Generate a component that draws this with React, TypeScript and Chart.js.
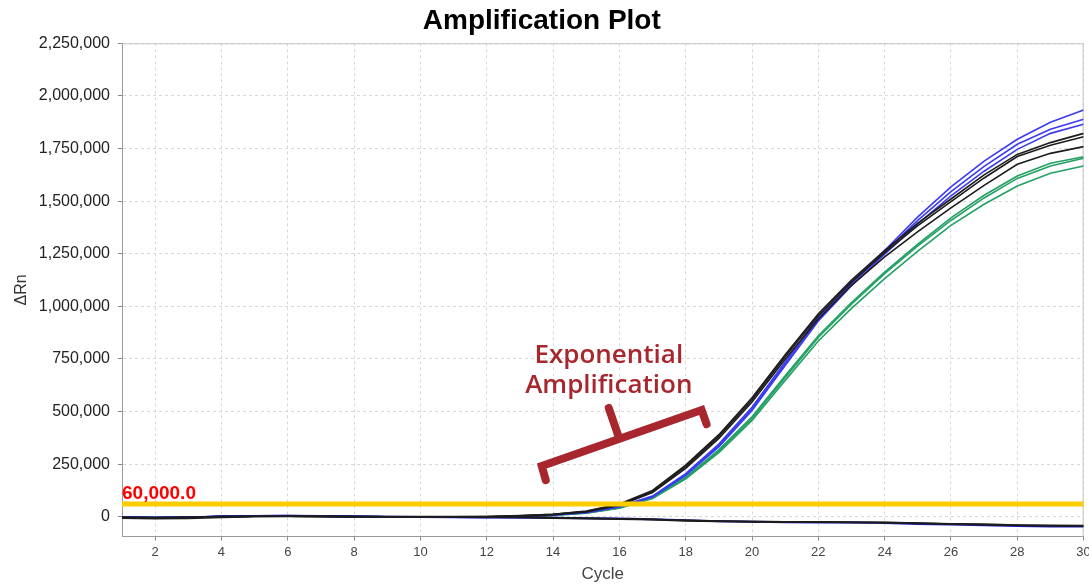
import React, { useEffect, useRef } from 'react';
import { Chart, registerables } from 'chart.js';

Chart.register(...registerables);

// ---------- data ----------
const cycles = [1, 2, 3, 4, 5, 6, 7, 8, 9, 10, 11, 12, 13, 14, 15, 16, 17, 18, 19, 20, 21, 22, 23, 24, 25, 26, 27, 28, 29, 30];
const xTickValues = [2, 4, 6, 8, 10, 12, 14, 16, 18, 20, 22, 24, 26, 28, 30];
const yTickValues = [0, 250000, 500000, 750000, 1000000, 1250000, 1500000, 1750000, 2000000, 2250000];

const black1 = [-5000, -7000, -4000, 0, 2000, 2000, 1000, 0, 0, 0, 0, 1000, 5000, 12000, 27000, 60000, 125000, 245000, 390000, 565000, 770000, 965000, 1125000, 1265000, 1395000, 1510000, 1625000, 1722000, 1778000, 1822000];
const black2 = [-4000, -6000, -3000, 1000, 3000, 2000, 1000, 0, 0, 0, 0, 1000, 4000, 11000, 25000, 57000, 120000, 238000, 382000, 556000, 760000, 955000, 1115000, 1255000, 1383000, 1498000, 1610000, 1712000, 1765000, 1806000];
const black3 = [-3000, -5000, -3000, 1000, 2000, 2000, 1000, 0, 0, 0, 0, 0, 3000, 10000, 23000, 54000, 115000, 230000, 372000, 545000, 748000, 940000, 1100000, 1235000, 1355000, 1468000, 1575000, 1675000, 1727000, 1759000];

const blue1 = [-3000, -5000, -3000, 2000, 4000, 4000, 3000, 1000, 0, -1000, -2000, -2000, 2000, 9000, 21000, 48000, 98000, 205000, 345000, 520000, 735000, 950000, 1115000, 1265000, 1425000, 1568000, 1690000, 1794000, 1875000, 1933000];
const blue2 = [-2000, -4000, -2000, 2000, 4000, 5000, 3000, 1000, 0, -1000, -2000, -2000, 1000, 8000, 20000, 47000, 96000, 200000, 338000, 512000, 725000, 940000, 1108000, 1258000, 1408000, 1545000, 1665000, 1770000, 1841000, 1889000];
const blue3 = [-3000, -4000, -3000, 1000, 3000, 4000, 3000, 1000, 0, -1000, -2000, -3000, 1000, 8000, 19000, 46000, 94000, 196000, 332000, 505000, 718000, 930000, 1098000, 1248000, 1392000, 1525000, 1642000, 1746000, 1822000, 1865000];

const green1 = [-2000, -4000, -2000, 1000, 3000, 3000, 2000, 1000, 0, -1000, -2000, -2000, 1000, 8000, 19000, 43000, 90000, 188000, 318000, 475000, 670000, 860000, 1018000, 1162000, 1295000, 1420000, 1528000, 1619000, 1680000, 1711000];
const green2 = [-2000, -3000, -2000, 1000, 3000, 3000, 2000, 1000, 0, -1000, -2000, -2000, 0, 7000, 18000, 42000, 88000, 184000, 312000, 468000, 662000, 852000, 1010000, 1155000, 1287000, 1408000, 1515000, 1608000, 1667000, 1704000];
const green3 = [-3000, -4000, -2000, 1000, 2000, 3000, 2000, 1000, 0, -1000, -2000, -3000, 0, 6000, 17000, 41000, 86000, 180000, 305000, 458000, 648000, 835000, 990000, 1132000, 1262000, 1385000, 1485000, 1572000, 1632000, 1667000];

const ntc1 = [-6000, -9000, -7000, -2000, 1000, 2000, 2000, 1000, 0, 0, 0, -1000, -3000, -6000, -9000, -11000, -13000, -19000, -22000, -24000, -25000, -25000, -26000, -28000, -31000, -34000, -36000, -40000, -42000, -43000];
const ntc2 = [-3000, -5000, -4000, 1000, 4000, 5000, 4000, 2000, 0, -1000, -3000, -4000, -5000, -5000, -7000, -9000, -12000, -17000, -21000, -24000, -26000, -28000, -28000, -30000, -34000, -37000, -40000, -44000, -46000, -46000];
const ntc3 = [-2000, -4000, -2000, 1000, 2000, 2000, 1000, 0, 0, 0, 0, -1000, -2000, -4000, -7000, -10000, -13000, -17000, -20000, -23000, -24000, -25000, -27000, -28000, -30000, -35000, -38000, -41000, -43000, -44000];

const threshold = 60000;
const thresholdLabel = '60,000.0';

// annotation anchors (data coordinates)
const annotationLines = ['Exponential', 'Amplification'];
const annotationCycle = 15.68;
const annotationValues = [730000, 588000];
const bracketCycles = [13.78, 13.66, 18.48, 18.63];
const bracketValues = [174000, 241000, 507000, 440000];
const stemCycles = [15.98, 15.68];
const stemValues = [379000, 517000];

// ---------- styles ----------
const FONT = "'Liberation Sans', Arial, sans-serif";
const BLACK = '#1c1c1c';
const BLUE = '#3b3bf2';
const GREEN = '#23a064';
const NTC_BLUE = '#1a1ad0';
const YELLOW = '#ffcc00';
const ANNOT = '#a8262e';

const toPoints = (vals: number[]) => cycles.map((c, i) => ({ x: c, y: vals[i] }));

const curve = (label: string, vals: number[], color: string, order: number, width = 1.6) => ({
  label,
  data: toPoints(vals),
  borderColor: color,
  backgroundColor: color,
  borderWidth: width,
  pointRadius: 0,
  tension: 0,
  order,
});

const overlayPlugin = {
  id: 'overlay',
  beforeDatasetsDraw(chart: any) {
    const { ctx, chartArea: a } = chart;
    ctx.save();
    ctx.strokeStyle = '#c4c4c4';
    ctx.lineWidth = 1;
    ctx.setLineDash([]);
    ctx.beginPath();
    ctx.moveTo(a.left, a.top + 0.5);
    ctx.lineTo(a.right, a.top + 0.5);
    ctx.moveTo(a.right - 0.5, a.top);
    ctx.lineTo(a.right - 0.5, a.bottom);
    ctx.stroke();
    ctx.restore();
  },
  afterDatasetsDraw(chart: any) {
    const { ctx, chartArea: a } = chart;
    const xs = chart.scales.x;
    const ys = chart.scales.y;
    ctx.save();
    // threshold label
    ctx.font = `bold 19px ${FONT}`;
    ctx.fillStyle = '#ff0000';
    ctx.textAlign = 'left';
    ctx.textBaseline = 'alphabetic';
    ctx.fillText(thresholdLabel, a.left, ys.getPixelForValue(threshold) - 4.8);

    // bracket
    ctx.strokeStyle = ANNOT;
    ctx.lineWidth = 8;
    ctx.lineCap = 'round';
    ctx.lineJoin = 'miter';
    ctx.beginPath();
    bracketCycles.forEach((c, i) => {
      const px = xs.getPixelForValue(c);
      const py = ys.getPixelForValue(bracketValues[i]);
      if (i === 0) ctx.moveTo(px, py);
      else ctx.lineTo(px, py);
    });
    ctx.stroke();
    ctx.beginPath();
    ctx.moveTo(xs.getPixelForValue(stemCycles[0]), ys.getPixelForValue(stemValues[0]));
    ctx.lineTo(xs.getPixelForValue(stemCycles[1]), ys.getPixelForValue(stemValues[1]));
    ctx.stroke();

    // annotation text
    ctx.fillStyle = ANNOT;
    ctx.font = `600 26px 'Open Sans', sans-serif`;
    ctx.textAlign = 'center';
    annotationLines.forEach((t, i) => {
      ctx.fillText(t, xs.getPixelForValue(annotationCycle), ys.getPixelForValue(annotationValues[i]));
    });
    ctx.restore();
  },
};

export default function App() {
  const ref = useRef<HTMLCanvasElement>(null);

  useEffect(() => {
    document.body.style.margin = '0';
    if (!ref.current) return;
    Chart.defaults.font.family = FONT;

    const datasets: any[] = [
      {
        label: 'Threshold',
        data: [{ x: cycles[0], y: threshold }, { x: cycles[cycles.length - 1], y: threshold }],
        borderColor: YELLOW,
        backgroundColor: YELLOW,
        borderWidth: 5,
        pointRadius: 0,
        order: 0,
      },
      curve('NTC 1', ntc1, BLACK, 1, 2),
      curve('NTC 2', ntc2, NTC_BLUE, 2, 2),
      curve('NTC 3', ntc3, BLACK, 1, 1.5),
      curve('Black 1', black1, BLACK, 3),
      curve('Black 2', black2, BLACK, 3),
      curve('Black 3', black3, BLACK, 3),
      curve('Blue 1', blue1, BLUE, 4),
      curve('Blue 2', blue2, BLUE, 4),
      curve('Blue 3', blue3, BLUE, 4),
      curve('Green 1', green1, GREEN, 5),
      curve('Green 2', green2, GREEN, 5),
      curve('Green 3', green3, GREEN, 5),
    ];

    const chart = new Chart(ref.current, {
      type: 'line',
      data: { datasets },
      plugins: [overlayPlugin],
      options: {
        animation: false,
        responsive: true,
        maintainAspectRatio: false,
        layout: { padding: { left: 0, right: 5.4, top: 0, bottom: 0 } },
        plugins: {
          legend: { display: false },
          tooltip: { enabled: false },
          title: {
            display: true,
            text: 'Amplification Plot',
            color: '#000',
            font: { family: FONT, size: 28, weight: 'bold' },
            padding: { top: 4, bottom: 5.7 },
          },
        },
        scales: {
          x: {
            type: 'linear',
            min: cycles[0],
            max: cycles[cycles.length - 1],
            ticks: {
              stepSize: 2,
              autoSkip: false,
              maxRotation: 0,
              color: '#444',
              padding: 4,
              font: { family: FONT, size: 13 },
            },
            grid: { color: '#d8d8d8', tickColor: '#888', tickLength: 4, lineWidth: 1 },
            border: { display: true, color: '#999', dash: [3, 3] },
            title: {
              display: true,
              text: 'Cycle',
              color: '#444',
              font: { family: FONT, size: 17 },
              padding: { top: 0, bottom: 1 },
            },
            afterBuildTicks: (s: any) => {
              s.ticks = xTickValues.map((v) => ({ value: v }));
            },
            afterFit: (s: any) => {
              s.height = 49.5;
              s.paddingLeft = 0;
              s.paddingRight = 0;
            },
          },
          y: {
            type: 'linear',
            min: -94000,
            max: yTickValues[yTickValues.length - 1],
            ticks: {
              stepSize: 250000,
              color: '#222',
              padding: 8,
              font: { family: FONT, size: 16 },
              callback: (v: any) => Number(v).toLocaleString('en-US'),
            },
            grid: { color: '#d8d8d8', tickColor: '#888', tickLength: 4, lineWidth: 1 },
            border: { display: true, color: '#999', dash: [3, 3] },
            title: {
              display: true,
              text: 'ΔRn',
              color: '#333',
              font: { family: FONT, size: 16 },
              padding: { top: 12, bottom: 0 },
            },
            afterBuildTicks: (s: any) => {
              s.ticks = yTickValues.map((v) => ({ value: v }));
            },
            afterFit: (s: any) => {
              s.width = 122;
              s.paddingTop = 0;
              s.paddingBottom = 0;
            },
          },
        },
      } as any,
    });

    return () => chart.destroy();
  }, []);

  return (
    <div style={{ position: 'relative', width: 1089, height: 586 }}>
      <canvas ref={ref} />
    </div>
  );
}
